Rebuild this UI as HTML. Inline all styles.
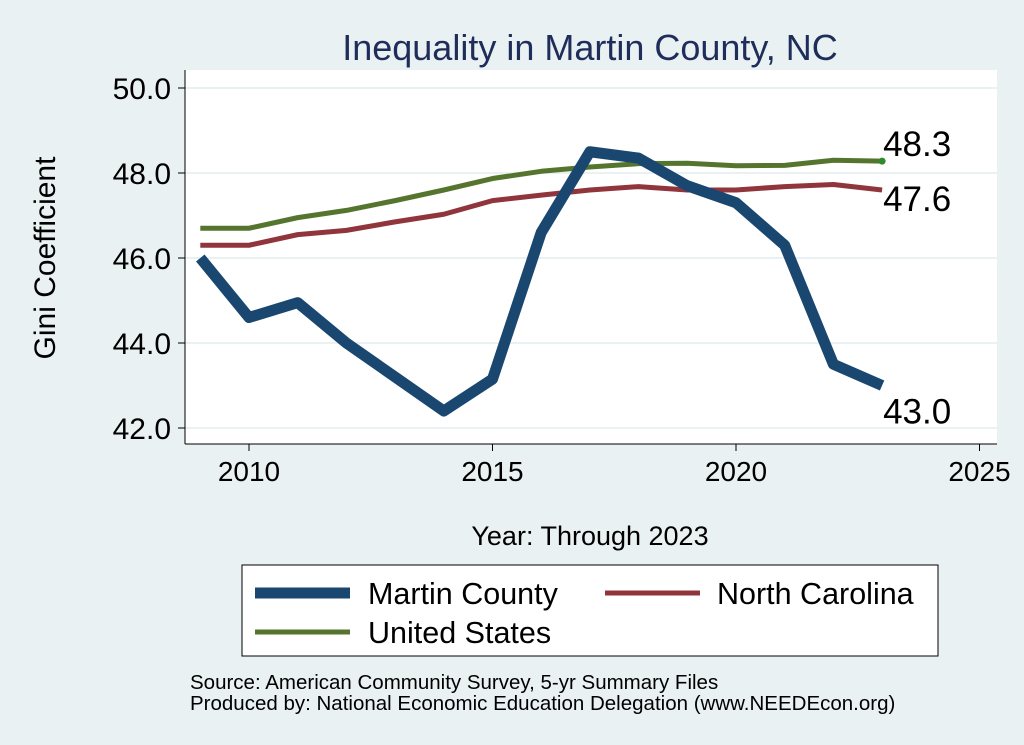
<!DOCTYPE html>
<html><head><meta charset="utf-8"><style>
body{margin:0;background:#eaf1f3;}
svg{display:block;font-family:"Liberation Sans",Arial,sans-serif;}
</style></head><body>
<svg id="c" width="1024" height="745" viewBox="0 0 1024 745">
<rect x="0" y="0" width="1024" height="745" fill="#eaf1f3"/>
<text x="590" y="60" font-size="36" fill="#1e2d5a" text-anchor="middle">Inequality in Martin County, NC</text>
<rect x="185" y="70" width="812" height="374" fill="#fff"/>
<g id="grid"></g>
<g id="axes"></g>
<g id="series"></g>
<text transform="translate(55,258) rotate(-90)" font-size="30" text-anchor="middle" fill="#000">Gini Coefficient</text>
<text x="590" y="545" font-size="27" text-anchor="middle" fill="#000">Year: Through 2023</text>
<g>
<rect x="242" y="565" width="696" height="91" fill="#fff" stroke="#000" stroke-width="1"/>
<line x1="255" y1="593" x2="350" y2="593" stroke="#1a476f" stroke-width="11"/>
<text x="368" y="604" font-size="30.5">Martin County</text>
<line x1="605" y1="593" x2="700" y2="593" stroke="#90353b" stroke-width="5"/>
<text x="717" y="604" font-size="30.5">North Carolina</text>
<line x1="255" y1="632" x2="350" y2="632" stroke="#55752f" stroke-width="5"/>
<text x="368" y="643" font-size="30.5">United States</text>
</g>
<text x="190" y="689" font-size="20.5">Source: American Community Survey, 5-yr Summary Files</text>
<text x="190" y="710" font-size="20.5">Produced by: National Economic Education Delegation (www.NEEDEcon.org)</text>
</svg>
<script>
const years=[2009,2010,2011,2012,2013,2014,2015,2016,2017,2018,2019,2020,2021,2022,2023];
const martin=[46.0,44.6,44.95,44.0,43.2,42.4,43.15,46.6,48.5,48.35,47.7,47.3,46.3,43.5,43.0];
const nc=[46.3,46.3,46.55,46.65,46.85,47.03,47.35,47.48,47.6,47.68,47.6,47.6,47.68,47.73,47.6];
const us=[46.7,46.7,46.95,47.12,47.35,47.6,47.87,48.04,48.14,48.22,48.23,48.17,48.18,48.3,48.28];
const yTicks=[42,44,46,48,50];
const xTicks=[2010,2015,2020,2025];
const NS='http://www.w3.org/2000/svg';
const X=v=>249+(v-2010)*48.7;
const Y=v=>428-(v-42)*42.5;
function mk(t,a,p,txt){const e=document.createElementNS(NS,t);for(const k in a)e.setAttribute(k,a[k]);if(txt!==undefined)e.textContent=txt;p.appendChild(e);return e;}
const grid=document.getElementById('grid'),axes=document.getElementById('axes'),ser=document.getElementById('series');
yTicks.forEach(v=>{
 const g=mk('line',{x1:185,x2:997,y1:Y(v),y2:Y(v),stroke:'#eaf1f3','stroke-width':2},grid);
 
 
 const t=mk('line',{x1:178,x2:185,y1:Y(v),y2:Y(v),stroke:'#000'},axes);
 
 
 const l=mk('text',{x:171,y:Y(v)+11,'font-size':30,'text-anchor':'end'},axes,v.toFixed(1));
 
 
});
xTicks.forEach(v=>{
 const t=mk('line',{x1:X(v),x2:X(v),y1:444,y2:451,stroke:'#000'},axes);
 
 
 const l=mk('text',{x:X(v),y:481,'font-size':28,'text-anchor':'middle'},axes,v);
 
 
});
const ya=mk('line',{x1:185,x2:185,y1:70,y2:444,stroke:'#000'},axes);


const xa=mk('line',{x1:185,x2:997,y1:444,y2:444,stroke:'#000'},axes);


function line(vals,color,w,name){
 const p=mk('polyline',{points:vals.map((v,i)=>X(years[i])+','+Y(v)).join(' '),fill:'none',stroke:color,'stroke-width':w,'stroke-linejoin':'round'},ser);
 
 
}
line(us,'#55752f',5,'line-united-states');
line(nc,'#90353b',5,'line-north-carolina');
line(martin,'#1a476f',11,'line-martin-county');
const n=years.length-1;
const dot=mk('circle',{cx:X(years[n]),cy:Y(us[n]),r:3.5,fill:'#2e8b2e'},ser);


[[us,-5,'label-us-last'],[nc,21,'label-nc-last'],[martin,38,'label-martin-last']].forEach(([s,dy,nm])=>{
 const t=mk('text',{x:X(years[n])+1,y:Y(s[n])+dy,'font-size':35},ser,s[n].toFixed(1));
 
 
});
</script>
</body></html>
